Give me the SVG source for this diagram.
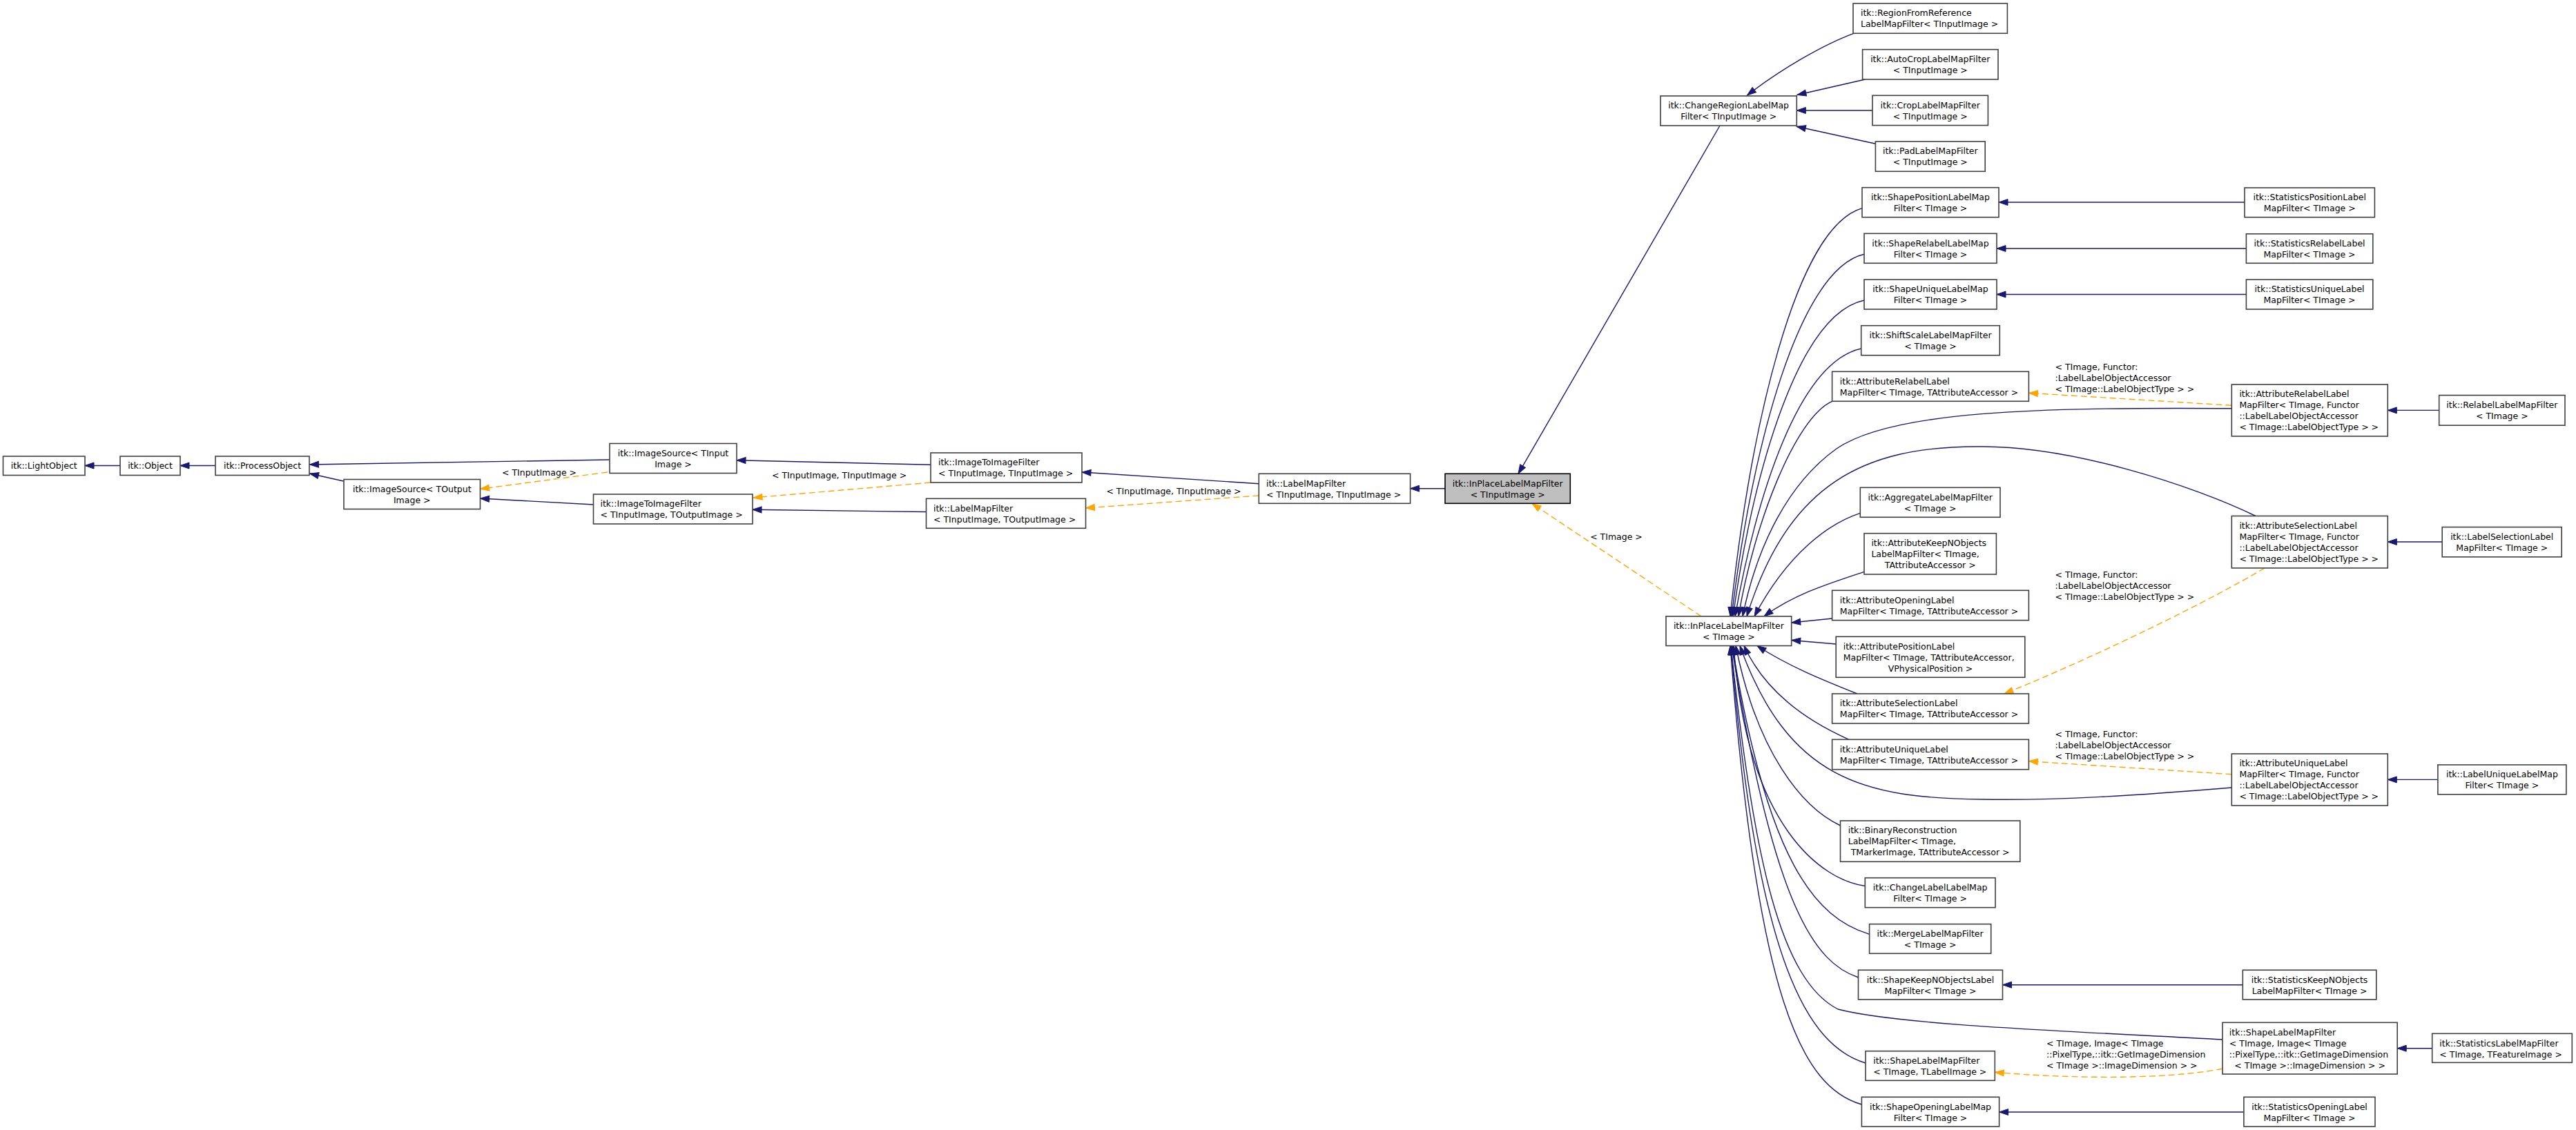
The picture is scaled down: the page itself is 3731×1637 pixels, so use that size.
<svg xmlns="http://www.w3.org/2000/svg" width="3731" height="1637" viewBox="0 0 3731 1637">
<style>
.n rect{fill:#fff;stroke:#404040;stroke-width:1.6}
.n.h rect{fill:#bfbfbf;stroke:#000}
text{font-family:"DejaVu Sans","Liberation Sans",sans-serif;font-size:12.5px;fill:#000}
.c{text-anchor:middle}
.e{fill:none;stroke:#191970;stroke-width:1.4;marker-end:url(#ab)}
.d{fill:none;stroke:#ffa500;stroke-width:1.4;stroke-dasharray:9,5;marker-end:url(#ao)}
</style>
<defs>
<marker id="ab" markerUnits="userSpaceOnUse" markerWidth="14" markerHeight="11" refX="13" refY="5" orient="auto" overflow="visible"><path d="M0,0.5 L13,5 L0,9.5 z" fill="#191970" stroke="#191970" stroke-width="1"/></marker>
<marker id="ao" markerUnits="userSpaceOnUse" markerWidth="14" markerHeight="11" refX="13" refY="5" orient="auto" overflow="visible"><path d="M0,0.5 L13,5 L0,9.5 z" fill="#ffa500" stroke="#ffa500" stroke-width="1"/></marker>
</defs>
<rect width="3731" height="1637" fill="#fff"/>
<g id="connectors">
<path class="e" d="M174,674.5 L123,674.5"/>
<path class="e" d="M312,674.5 L261,674.5"/>
<path class="e" d="M497.5,697 L448.5,686"/>
<path class="e" d="M883,666 L448.5,673"/>
<path class="e" d="M859.5,731 L695.5,722"/>
<path class="e" d="M1348,673.3 L1067,666.7"/>
<path class="e" d="M1341.5,741.5 L1090,738.3"/>
<path class="e" d="M1823.3,700.7 L1567,684"/>
<path class="e" d="M2093,707.7 L2042.6,707.7"/>
<path class="e" d="M2491,182 L2199,686.3"/>
<path class="e" d="M2685,48.3 C2640,65 2580,100 2530.5,138"/>
<path class="e" d="M2701.5,115 L2603,137.5"/>
<path class="e" d="M2712,160 L2602.3,160"/>
<path class="e" d="M2716.4,208.3 L2602.3,183.3"/>
<path class="e" d="M3251,293 L2895,293"/>
<path class="e" d="M3253.4,360 L2892,360"/>
<path class="e" d="M3253.4,426.5 L2892,426.5"/>
<path class="e" d="M3532.7,594.4 L3458.3,594.4"/>
<path class="e" d="M3537.2,785 L3458.3,785"/>
<path class="e" d="M3530.9,1129.4 L3458.3,1129.4"/>
<path class="e" d="M3248.3,1426.7 L2900.5,1426.7"/>
<path class="e" d="M3522.7,1518.7 L3472.2,1518.7"/>
<path class="e" d="M3249.9,1611 L2895.6,1611"/>
<path class="e" d="M2697,301.7 C2600,330 2535,620 2506,892.8"/>
<path class="e" d="M2700,368.3 C2605,390 2537,650 2508,892.8"/>
<path class="e" d="M2700,435 C2605,455 2540,680 2510,892.8"/>
<path class="e" d="M2695.7,505 C2605,525 2545,715 2513,892.8"/>
<path class="e" d="M2653.6,581.3 C2600,605 2540,760 2518,892.8"/>
<path class="e" d="M3232.3,591.7 C2950,590 2740,595 2660,650 C2590,700 2545,790 2524,892.8"/>
<path class="e" d="M3267,747.5 C3180,705 3000,645 2864,647 C2700,647 2590,700 2530,892.8"/>
<path class="e" d="M2694.3,743.3 C2650,758 2590,800 2541,892.8"/>
<path class="e" d="M2700,828.3 C2650,845 2600,860 2555,892.8"/>
<path class="e" d="M2653.6,896 L2594.7,902"/>
<path class="e" d="M2659.2,933 L2594.7,927.5"/>
<path class="e" d="M2690,1005 C2640,985 2590,965 2545,935.5"/>
<path class="e" d="M2678,1071.3 C2630,1050 2560,1010 2526,935.5"/>
<path class="e" d="M3232.3,1141 C3100,1152 2980,1160 2870,1158 C2700,1156 2590,1130 2520,935.5"/>
<path class="e" d="M2665.5,1196 C2610,1170 2545,1090 2514,935.5"/>
<path class="e" d="M2701.3,1283.5 C2640,1275 2530,1200 2511,935.5"/>
<path class="e" d="M2707.6,1353.3 C2630,1330 2560,1250 2509,935.5"/>
<path class="e" d="M2691.5,1416 C2630,1395 2570,1320 2508,935.5"/>
<path class="e" d="M3219,1506 C3000,1494 2750,1485 2662,1462 C2580,1420 2540,1250 2507,935.5"/>
<path class="e" d="M2702,1540 C2620,1515 2545,1400 2507,935.5"/>
<path class="e" d="M2696.4,1600 C2610,1575 2545,1450 2506,935.5"/>
<path class="d" d="M880,684 L695.5,708.3"/>
<path class="d" d="M1348,699 L1091,721"/>
<path class="d" d="M1823.3,718 L1572.4,736"/>
<path class="d" d="M2464,892.8 L2219,729.5"/>
<path class="d" d="M3232.3,587.3 L2938.4,569.3"/>
<path class="d" d="M3280,823 C3200,870 3050,945 2903,1005"/>
<path class="d" d="M3232.3,1121.7 L2938.4,1102.7"/>
<path class="d" d="M3219,1548.3 C3130,1565 2990,1562 2889.3,1553.3"/>
<text class="c" x="781" y="688.5">&lt; TInputImage &gt;</text>
<text class="c" x="1215.6" y="693">&lt; TInputImage, TInputImage &gt;</text>
<text class="c" x="1700" y="716">&lt; TInputImage, TInputImage &gt;</text>
<text class="c" x="2341" y="782">&lt; TImage &gt;</text>
<text x="2976.5"><tspan x="2976.5" y="536">&lt; TImage, Functor:</tspan><tspan x="2976.5" y="552">:LabelLabelObjectAccessor</tspan><tspan x="2976.5" y="568">&lt; TImage::LabelObjectType &gt; &gt;</tspan></text>
<text x="2976.5"><tspan x="2976.5" y="837">&lt; TImage, Functor:</tspan><tspan x="2976.5" y="853">:LabelLabelObjectAccessor</tspan><tspan x="2976.5" y="869">&lt; TImage::LabelObjectType &gt; &gt;</tspan></text>
<text x="2976.5"><tspan x="2976.5" y="1068">&lt; TImage, Functor:</tspan><tspan x="2976.5" y="1084">:LabelLabelObjectAccessor</tspan><tspan x="2976.5" y="1100">&lt; TImage::LabelObjectType &gt; &gt;</tspan></text>
<text x="2964"><tspan x="2964" y="1516">&lt; TImage, Image&lt; TImage</tspan><tspan x="2964" y="1532">::PixelType,::itk::GetImageDimension</tspan><tspan x="2964" y="1548">&lt; TImage &gt;::ImageDimension &gt; &gt;</tspan></text>
</g>
<g id="n1" class="n"><rect x="4.5" y="661" width="118.5" height="27.5"/><text class="c" x="63.75" y="679.3">itk::LightObject</text></g>
<g id="n2" class="n"><rect x="174" y="661" width="87" height="27.5"/><text class="c" x="217.5" y="679.3">itk::Object</text></g>
<g id="n3" class="n"><rect x="312" y="661" width="136" height="27.5"/><text class="c" x="380" y="679.3">itk::ProcessObject</text></g>
<g id="n4" class="n"><rect x="498" y="694.5" width="197.5" height="43"/><text class="c"><tspan x="596.75" y="712.8">itk::ImageSource&lt; TOutput</tspan><tspan x="596.75" y="728.8">Image &gt;</tspan></text></g>
<g id="n5" class="n"><rect x="883" y="642.5" width="184" height="43"/><text class="c"><tspan x="975" y="660.8">itk::ImageSource&lt; TInput</tspan><tspan x="975" y="676.8">Image &gt;</tspan></text></g>
<g id="n6" class="n"><rect x="859.5" y="716" width="230.5" height="43"/><text><tspan x="869.5" y="734.3">itk::ImageToImageFilter</tspan><tspan x="869.5" y="750.3">&lt; TInputImage, TOutputImage &gt;</tspan></text></g>
<g id="n7" class="n"><rect x="1348" y="656" width="219" height="43"/><text><tspan x="1359" y="674.3">itk::ImageToImageFilter</tspan><tspan x="1359" y="690.3">&lt; TInputImage, TInputImage &gt;</tspan></text></g>
<g id="n8" class="n"><rect x="1341.5" y="722.3" width="231" height="43"/><text><tspan x="1352" y="740.6">itk::LabelMapFilter</tspan><tspan x="1352" y="756.6">&lt; TInputImage, TOutputImage &gt;</tspan></text></g>
<g id="n9" class="n"><rect x="1823.3" y="686.3" width="219.3" height="43"/><text><tspan x="1834" y="704.6">itk::LabelMapFilter</tspan><tspan x="1834" y="720.6">&lt; TInputImage, TInputImage &gt;</tspan></text></g>
<g id="n10" class="n h"><rect x="2093" y="686.3" width="181.3" height="43"/><text class="c"><tspan x="2183.65" y="704.6">itk::InPlaceLabelMapFilter</tspan><tspan x="2183.65" y="720.6">&lt; TInputImage &gt;</tspan></text></g>
<g id="n11" class="n"><rect x="2405" y="139" width="197.3" height="43"/><text class="c"><tspan x="2503.65" y="157.3">itk::ChangeRegionLabelMap</tspan><tspan x="2503.65" y="173.3">Filter&lt; TInputImage &gt;</tspan></text></g>
<g id="n12" class="n"><rect x="2684" y="5" width="223.4" height="43.3"/><text><tspan x="2695" y="23.3">itk::RegionFromReference</tspan><tspan x="2695" y="39.3">LabelMapFilter&lt; TInputImage &gt;</tspan></text></g>
<g id="n13" class="n"><rect x="2697.6" y="71.7" width="196.4" height="43.3"/><text class="c"><tspan x="2795.8" y="90">itk::AutoCropLabelMapFilter</tspan><tspan x="2795.8" y="106">&lt; TInputImage &gt;</tspan></text></g>
<g id="n14" class="n"><rect x="2712" y="138.3" width="167.4" height="43.3"/><text class="c"><tspan x="2795.7" y="156.6">itk::CropLabelMapFilter</tspan><tspan x="2795.7" y="172.6">&lt; TInputImage &gt;</tspan></text></g>
<g id="n15" class="n"><rect x="2716.4" y="205" width="158.8" height="43.3"/><text class="c"><tspan x="2795.8" y="223.3">itk::PadLabelMapFilter</tspan><tspan x="2795.8" y="239.3">&lt; TInputImage &gt;</tspan></text></g>
<g id="n16" class="n"><rect x="2413" y="892.8" width="181.7" height="42.7"/><text class="c"><tspan x="2503.85" y="911.1">itk::InPlaceLabelMapFilter</tspan><tspan x="2503.85" y="927.1">&lt; TImage &gt;</tspan></text></g>
<g id="n17" class="n"><rect x="2697" y="271.7" width="198" height="43"/><text class="c"><tspan x="2796" y="290">itk::ShapePositionLabelMap</tspan><tspan x="2796" y="306">Filter&lt; TImage &gt;</tspan></text></g>
<g id="n18" class="n"><rect x="2700" y="338.3" width="192" height="43"/><text class="c"><tspan x="2796" y="356.6">itk::ShapeRelabelLabelMap</tspan><tspan x="2796" y="372.6">Filter&lt; TImage &gt;</tspan></text></g>
<g id="n19" class="n"><rect x="2700" y="405" width="192" height="43"/><text class="c"><tspan x="2796" y="423.3">itk::ShapeUniqueLabelMap</tspan><tspan x="2796" y="439.3">Filter&lt; TImage &gt;</tspan></text></g>
<g id="n20" class="n"><rect x="2695.7" y="471.7" width="200.6" height="43"/><text class="c"><tspan x="2796" y="490">itk::ShiftScaleLabelMapFilter</tspan><tspan x="2796" y="506">&lt; TImage &gt;</tspan></text></g>
<g id="n21" class="n"><rect x="2653.6" y="538.3" width="284.8" height="43"/><text><tspan x="2664.8" y="556.6">itk::AttributeRelabelLabel</tspan><tspan x="2664.8" y="572.6">MapFilter&lt; TImage, TAttributeAccessor &gt;</tspan></text></g>
<g id="n22" class="n"><rect x="2694.3" y="706.3" width="202.7" height="43"/><text class="c"><tspan x="2795.65" y="724.6">itk::AggregateLabelMapFilter</tspan><tspan x="2795.65" y="740.6">&lt; TImage &gt;</tspan></text></g>
<g id="n23" class="n"><rect x="2700" y="772.7" width="191.4" height="59.3"/><text><tspan x="2710.4" y="791">itk::AttributeKeepNObjects</tspan><tspan x="2710.4" y="807">LabelMapFilter&lt; TImage,</tspan><tspan class="c" x="2795.7" y="823">TAttributeAccessor &gt;</tspan></text></g>
<g id="n24" class="n"><rect x="2653.6" y="855.3" width="284.8" height="43.3"/><text><tspan x="2664.8" y="873.6">itk::AttributeOpeningLabel</tspan><tspan x="2664.8" y="889.6">MapFilter&lt; TImage, TAttributeAccessor &gt;</tspan></text></g>
<g id="n25" class="n"><rect x="2659.2" y="922.3" width="273.6" height="59"/><text><tspan x="2669.7" y="940.6">itk::AttributePositionLabel</tspan><tspan x="2669.7" y="956.6">MapFilter&lt; TImage, TAttributeAccessor,</tspan><tspan class="c" x="2796" y="972.6">VPhysicalPosition &gt;</tspan></text></g>
<g id="n26" class="n"><rect x="2653.6" y="1005" width="284.8" height="43"/><text><tspan x="2664.8" y="1023.3">itk::AttributeSelectionLabel</tspan><tspan x="2664.8" y="1039.3">MapFilter&lt; TImage, TAttributeAccessor &gt;</tspan></text></g>
<g id="n27" class="n"><rect x="2653.6" y="1071.3" width="284.8" height="43.4"/><text><tspan x="2664.8" y="1089.6">itk::AttributeUniqueLabel</tspan><tspan x="2664.8" y="1105.6">MapFilter&lt; TImage, TAttributeAccessor &gt;</tspan></text></g>
<g id="n28" class="n"><rect x="2665.5" y="1189" width="260.3" height="59.3"/><text><tspan x="2676.7" y="1207.3">itk::BinaryReconstruction</tspan><tspan x="2676.7" y="1223.3">LabelMapFilter&lt; TImage,</tspan><tspan class="c" x="2795.65" y="1239.3">TMarkerImage, TAttributeAccessor &gt;</tspan></text></g>
<g id="n29" class="n"><rect x="2701.3" y="1271.7" width="188.7" height="43"/><text class="c"><tspan x="2795.65" y="1290">itk::ChangeLabelLabelMap</tspan><tspan x="2795.65" y="1306">Filter&lt; TImage &gt;</tspan></text></g>
<g id="n30" class="n"><rect x="2707.6" y="1338.7" width="176.1" height="42.6"/><text class="c"><tspan x="2795.65" y="1357">itk::MergeLabelMapFilter</tspan><tspan x="2795.65" y="1373">&lt; TImage &gt;</tspan></text></g>
<g id="n31" class="n"><rect x="2691.5" y="1405.3" width="209" height="42.7"/><text class="c"><tspan x="2796" y="1423.6">itk::ShapeKeepNObjectsLabel</tspan><tspan x="2796" y="1439.6">MapFilter&lt; TImage &gt;</tspan></text></g>
<g id="n32" class="n"><rect x="2702" y="1522.7" width="187.3" height="42.6"/><text><tspan x="2713.2" y="1541">itk::ShapeLabelMapFilter</tspan><tspan x="2713.2" y="1557">&lt; TImage, TLabelImage &gt;</tspan></text></g>
<g id="n33" class="n"><rect x="2696.4" y="1589.3" width="199.2" height="42.7"/><text class="c"><tspan x="2796" y="1607.6">itk::ShapeOpeningLabelMap</tspan><tspan x="2796" y="1623.6">Filter&lt; TImage &gt;</tspan></text></g>
<g id="n34" class="n"><rect x="3251" y="272" width="188.4" height="42.7"/><text class="c"><tspan x="3345.2" y="290.3">itk::StatisticsPositionLabel</tspan><tspan x="3345.2" y="306.3">MapFilter&lt; TImage &gt;</tspan></text></g>
<g id="n35" class="n"><rect x="3253.4" y="338.8" width="183.4" height="42.5"/><text class="c"><tspan x="3345.1" y="357.1">itk::StatisticsRelabelLabel</tspan><tspan x="3345.1" y="373.1">MapFilter&lt; TImage &gt;</tspan></text></g>
<g id="n36" class="n"><rect x="3253.4" y="405" width="183.4" height="43"/><text class="c"><tspan x="3345.1" y="423.3">itk::StatisticsUniqueLabel</tspan><tspan x="3345.1" y="439.3">MapFilter&lt; TImage &gt;</tspan></text></g>
<g id="n37" class="n"><rect x="3232.3" y="557" width="226" height="75"/><text><tspan x="3243.4" y="575.3">itk::AttributeRelabelLabel</tspan><tspan x="3243.4" y="591.3">MapFilter&lt; TImage, Functor</tspan><tspan x="3243.4" y="607.3">::LabelLabelObjectAccessor</tspan><tspan x="3243.4" y="623.3">&lt; TImage::LabelObjectType &gt; &gt;</tspan></text></g>
<g id="n38" class="n"><rect x="3232.3" y="747.5" width="226" height="75.4"/><text><tspan x="3243.4" y="765.8">itk::AttributeSelectionLabel</tspan><tspan x="3243.4" y="781.8">MapFilter&lt; TImage, Functor</tspan><tspan x="3243.4" y="797.8">::LabelLabelObjectAccessor</tspan><tspan x="3243.4" y="813.8">&lt; TImage::LabelObjectType &gt; &gt;</tspan></text></g>
<g id="n39" class="n"><rect x="3232.3" y="1092" width="226" height="75"/><text><tspan x="3243.4" y="1110.3">itk::AttributeUniqueLabel</tspan><tspan x="3243.4" y="1126.3">MapFilter&lt; TImage, Functor</tspan><tspan x="3243.4" y="1142.3">::LabelLabelObjectAccessor</tspan><tspan x="3243.4" y="1158.3">&lt; TImage::LabelObjectType &gt; &gt;</tspan></text></g>
<g id="n40" class="n"><rect x="3248.3" y="1405.3" width="193.5" height="42.7"/><text class="c"><tspan x="3345" y="1423.6">itk::StatisticsKeepNObjects</tspan><tspan x="3345" y="1439.6">LabelMapFilter&lt; TImage &gt;</tspan></text></g>
<g id="n41" class="n"><rect x="3219" y="1481.3" width="253.2" height="74.7"/><text><tspan x="3228.8" y="1499.6">itk::ShapeLabelMapFilter</tspan><tspan x="3228.8" y="1515.6">&lt; TImage, Image&lt; TImage</tspan><tspan x="3228.8" y="1531.6">::PixelType,::itk::GetImageDimension</tspan><tspan class="c" x="3345.6" y="1547.6">&lt; TImage &gt;::ImageDimension &gt; &gt;</tspan></text></g>
<g id="n42" class="n"><rect x="3249.9" y="1589.3" width="190.1" height="42.7"/><text class="c"><tspan x="3345" y="1607.6">itk::StatisticsOpeningLabel</tspan><tspan x="3345" y="1623.6">MapFilter&lt; TImage &gt;</tspan></text></g>
<g id="n43" class="n"><rect x="3532.7" y="572.6" width="182.3" height="43.6"/><text class="c"><tspan x="3623.85" y="590.9">itk::RelabelLabelMapFilter</tspan><tspan x="3623.85" y="606.9">&lt; TImage &gt;</tspan></text></g>
<g id="n44" class="n"><rect x="3537.2" y="763.6" width="173" height="43.2"/><text class="c"><tspan x="3623.7" y="781.9">itk::LabelSelectionLabel</tspan><tspan x="3623.7" y="797.9">MapFilter&lt; TImage &gt;</tspan></text></g>
<g id="n45" class="n"><rect x="3530.9" y="1108" width="186" height="42.8"/><text class="c"><tspan x="3623.9" y="1126.3">itk::LabelUniqueLabelMap</tspan><tspan x="3623.9" y="1142.3">Filter&lt; TImage &gt;</tspan></text></g>
<g id="n46" class="n"><rect x="3522.7" y="1497.3" width="202.6" height="42"/><text><tspan x="3533.3" y="1515.6">itk::StatisticsLabelMapFilter</tspan><tspan x="3533.3" y="1531.6">&lt; TImage, TFeatureImage &gt;</tspan></text></g>
</svg>
